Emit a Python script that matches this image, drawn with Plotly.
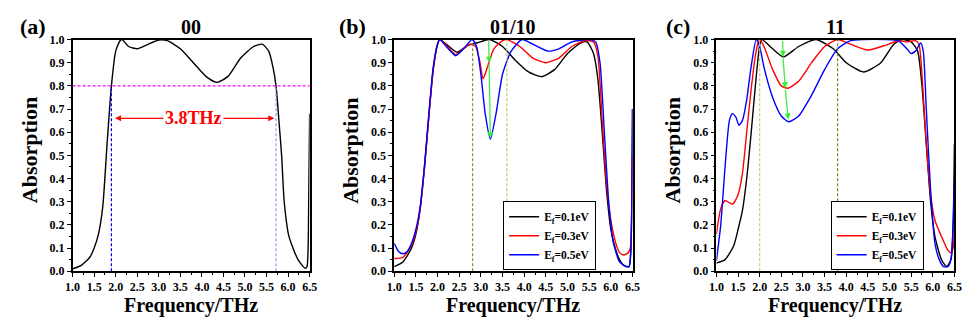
import plotly.graph_objects as go

# ---------------- data ----------------
f_a = [1.0, 1.2, 1.4, 1.5, 1.6, 1.7, 1.8, 1.9, 2.0, 2.1, 2.15, 2.3, 2.5, 2.7, 3.0, 3.2, 3.5, 3.8,
       4.1, 4.35, 4.6, 4.9, 5.2, 5.4, 5.55, 5.65, 5.72, 5.8, 5.85, 5.91, 6.02, 6.23, 6.4, 6.44, 6.47, 6.5]
a_00 = [0.01, 0.025, 0.06, 0.1, 0.16, 0.28, 0.55, 0.8, 0.95, 0.995, 1.0, 0.97, 0.96, 0.975, 0.998, 0.995, 0.96, 0.9,
        0.84, 0.815, 0.84, 0.92, 0.97, 0.98, 0.95, 0.88, 0.8, 0.62, 0.5, 0.3, 0.15, 0.05, 0.012, 0.02, 0.15, 0.68]

f_b_k = [1.0, 1.2, 1.4, 1.5, 1.6, 1.7, 1.8, 1.9, 2.0, 2.05, 2.2, 2.45, 2.7, 2.9, 3.2, 3.5, 3.8, 4.1, 4.4,
         4.7, 5.0, 5.3, 5.45, 5.6, 5.7, 5.8, 5.9, 6.0, 6.1, 6.2, 6.3, 6.42, 6.46, 6.5]
b_k = [0.02, 0.04, 0.1, 0.16, 0.27, 0.45, 0.67, 0.87, 0.98, 1.0, 0.98, 0.945, 0.975, 0.985, 1.0, 0.97, 0.91, 0.86, 0.84,
       0.87, 0.94, 0.985, 0.99, 0.94, 0.83, 0.6, 0.35, 0.18, 0.1, 0.05, 0.025, 0.02, 0.08, 0.7]
f_b_r = [1.0, 1.2, 1.4, 1.5, 1.6, 1.7, 1.8, 1.9, 2.0, 2.05, 2.2, 2.42, 2.6, 2.75, 2.88, 2.98, 3.05, 3.15, 3.3,
         3.5, 3.6, 3.9, 4.2, 4.5, 4.8, 5.1, 5.4, 5.6, 5.7, 5.8, 5.9, 6.0, 6.1, 6.2, 6.3, 6.4, 6.45, 6.5]
b_r = [0.055, 0.06, 0.11, 0.17, 0.27, 0.45, 0.67, 0.87, 0.98, 1.0, 0.975, 0.935, 0.96, 0.98, 0.97, 0.9, 0.83, 0.88, 0.96,
       0.995, 1.0, 0.97, 0.92, 0.9, 0.92, 0.97, 0.995, 0.99, 0.93, 0.65, 0.38, 0.22, 0.13, 0.08, 0.07, 0.08, 0.1, 0.5]
f_b_b = [1.0, 1.1, 1.2, 1.3, 1.4, 1.5, 1.6, 1.7, 1.8, 1.9, 2.0, 2.05, 2.2, 2.42, 2.6, 2.8, 2.9, 3.0, 3.1, 3.22,
         3.35, 3.5, 3.7, 3.95, 4.2, 4.55, 4.8, 5.1, 5.5, 5.65, 5.75, 5.85, 5.95, 6.05, 6.2, 6.35, 6.42, 6.47, 6.5]
b_b = [0.12, 0.085, 0.075, 0.085, 0.12, 0.18, 0.28, 0.46, 0.68, 0.88, 0.98, 1.0, 0.97, 0.93, 0.96, 1.0, 0.97, 0.85, 0.68, 0.57,
       0.68, 0.85, 0.95, 1.0, 0.98, 0.95, 0.96, 0.99, 1.0, 0.99, 0.9, 0.6, 0.3, 0.13, 0.04, 0.02, 0.02, 0.15, 0.7]

f_c_k = [1.0, 1.2, 1.4, 1.5, 1.6, 1.7, 1.8, 1.9, 2.0, 2.05, 2.3, 2.55, 2.9, 3.3, 3.7, 4.0, 4.4, 4.8, 5.1,
         5.3, 5.5, 5.65, 5.75, 5.85, 5.95, 6.05, 6.2, 6.32, 6.42, 6.47, 6.5]
c_k = [0.035, 0.05, 0.11, 0.18, 0.26, 0.4, 0.59, 0.8, 0.975, 1.0, 0.96, 0.925, 0.97, 1.0, 0.96, 0.9, 0.86, 0.9, 0.98,
       1.0, 0.99, 0.95, 0.8, 0.55, 0.3, 0.15, 0.05, 0.02, 0.05, 0.2, 0.55]
f_c_r = [1.0, 1.1, 1.2, 1.3, 1.38, 1.5, 1.6, 1.7, 1.8, 1.9, 1.97, 2.0, 2.1, 2.3, 2.5, 2.65, 2.9, 3.2, 3.5, 3.8,
         4.1, 4.5, 4.9, 5.2, 5.4, 5.6, 5.68, 5.75, 5.85, 5.95, 6.05, 6.2, 6.35, 6.42, 6.47, 6.5]
c_r = [0.16, 0.27, 0.305, 0.295, 0.29, 0.33, 0.42, 0.6, 0.78, 0.93, 0.99, 1.0, 0.97, 0.87, 0.8, 0.79, 0.82, 0.9, 0.97, 1.0,
       0.98, 0.955, 0.975, 0.995, 0.99, 0.995, 0.98, 0.85, 0.55, 0.33, 0.22, 0.15, 0.09, 0.08, 0.1, 0.18]
f_c_b = [1.0, 1.1, 1.2, 1.3, 1.37, 1.45, 1.52, 1.6, 1.7, 1.8, 1.92, 2.0, 2.1, 2.3, 2.5, 2.67, 2.9, 3.2, 3.5, 3.8,
         4.1, 4.4, 4.9, 5.2, 5.4, 5.5, 5.6, 5.72, 5.78, 5.85, 5.95, 6.05, 6.15, 6.25, 6.35, 6.42, 6.47, 6.5]
c_b = [0.045, 0.2, 0.45, 0.65, 0.68, 0.665, 0.63, 0.65, 0.74, 0.88, 1.0, 0.97, 0.88, 0.75, 0.67, 0.645, 0.67, 0.76, 0.87, 0.96,
       0.995, 1.0, 1.0, 0.995, 0.96, 0.94, 0.95, 0.985, 0.95, 0.7, 0.35, 0.12, 0.05, 0.02, 0.02, 0.05, 0.2, 0.4]

legend_names = ["E<sub>f</sub>=0.1eV", "E<sub>f</sub>=0.3eV", "E<sub>f</sub>=0.5eV"]
panel_titles = ["00", "01/10", "11"]
panel_tags = ["(a)", "(b)", "(c)"]
x_ticks = [1.0, 1.5, 2.0, 2.5, 3.0, 3.5, 4.0, 4.5, 5.0, 5.5, 6.0, 6.5]
y_ticks = [0.0, 0.1, 0.2, 0.3, 0.4, 0.5, 0.6, 0.7, 0.8, 0.9, 1.0]

# ---------------- figure ----------------
W, H = 969, 327
FONT = "Liberation Serif"
BLACK, RED, BLUE = "#000000", "#ff0000", "#0000ff"
GREEN = "#33ee33"
DASH = "3px,2px"

xdom = [(65.7 / W, 306.7 / W), (392.7 / W, 635 / W), (720.3 / W, 962.3 / W)]
ydom = (1 - 276 / H, 1 - 34 / H)

fig = go.Figure()
LW = 1.4

def line(color):
    return dict(color=color, width=LW, shape="spline", smoothing=0.6)

fig.add_trace(go.Scatter(x=f_a, y=a_00, mode="lines", line=line(BLACK), showlegend=False,
                         xaxis="x", yaxis="y"))
for fx, fy, col, nm in [(f_b_k, b_k, BLACK, legend_names[0]), (f_b_r, b_r, RED, legend_names[1]),
                        (f_b_b, b_b, BLUE, legend_names[2])]:
    fig.add_trace(go.Scatter(x=fx, y=fy, mode="lines", line=line(col), name=nm,
                             xaxis="x2", yaxis="y2", legend="legend"))
for fx, fy, col, nm in [(f_c_k, c_k, BLACK, legend_names[0]), (f_c_r, c_r, RED, legend_names[1]),
                        (f_c_b, c_b, BLUE, legend_names[2])]:
    fig.add_trace(go.Scatter(x=fx, y=fy, mode="lines", line=line(col), name=nm,
                             xaxis="x3", yaxis="y3", legend="legend2"))

tickfont = dict(family=FONT, size=12, color="black", weight="bold")
layout = dict(width=W, height=H, margin=dict(l=0, r=0, t=0, b=0),
              paper_bgcolor="white", plot_bgcolor="white", font=dict(family=FONT, color="black"))
for i in range(3):
    sx = "" if i == 0 else str(i + 1)
    layout["xaxis" + sx] = dict(domain=list(xdom[i]), range=[1.0, 6.5], anchor="y" + sx,
                                tickmode="array", tickvals=x_ticks,
                                ticktext=[f"{v:.1f}" for v in x_ticks],
                                ticks="outside", ticklen=4, tickwidth=1, tickcolor="black",
                                minor=dict(dtick=0.25, tick0=1.0, ticks="outside", ticklen=2, tickcolor="black"),
                                showline=True, linecolor="black", linewidth=1.5, mirror=True,
                                showgrid=False, zeroline=False, tickfont=tickfont)
    layout["yaxis" + sx] = dict(domain=list(ydom), range=[0.0, 1.0], anchor="x" + sx,
                                tickmode="array", tickvals=y_ticks,
                                ticktext=[f"{v:.1f}" for v in y_ticks],
                                ticks="outside", ticklen=4, tickwidth=1, tickcolor="black",
                                minor=dict(dtick=0.05, tick0=0.0, ticks="outside", ticklen=2, tickcolor="black"),
                                showline=True, linecolor="black", linewidth=1.5, mirror=True,
                                showgrid=False, zeroline=False, tickfont=tickfont)

legfont = dict(family=FONT, size=11.5, color="black", weight="bold")
layout["legend"] = dict(x=598 / W, y=1 - 275 / H, xanchor="right", yanchor="bottom",
                        bordercolor="black", borderwidth=1, bgcolor="white", font=legfont,
                        itemwidth=30, tracegroupgap=0)
layout["legend2"] = dict(x=931 / W, y=1 - 275 / H, xanchor="right", yanchor="bottom",
                         bordercolor="black", borderwidth=1, bgcolor="white", font=legfont,
                         itemwidth=30, tracegroupgap=0)
fig.update_layout(**layout)

# ---------------- shapes ----------------
shapes = []
# (a)
shapes.append(dict(type="line", xref="x domain", yref="y", x0=0, x1=1, y0=0.8, y1=0.8,
                   line=dict(color="#ff00ff", width=1.2, dash=DASH)))
shapes.append(dict(type="line", xref="x", yref="y", x0=1.9, x1=1.9, y0=0, y1=0.8,
                   line=dict(color="#0000ff", width=1.2, dash=DASH)))
shapes.append(dict(type="line", xref="x", yref="y", x0=5.72, x1=5.72, y0=0, y1=0.8,
                   line=dict(color="#9999ff", width=1.2, dash=DASH)))
# (b)
shapes.append(dict(type="line", xref="x2", yref="y2", x0=2.81, x1=2.81, y0=0, y1=0.98,
                   line=dict(color="#8f8f2a", width=1.2, dash=DASH)))
shapes.append(dict(type="line", xref="x2", yref="y2", x0=3.6, x1=3.6, y0=0, y1=1.0,
                   line=dict(color="#c2c270", width=1.2, dash=DASH)))
# (c)
shapes.append(dict(type="line", xref="x3", yref="y3", x0=2.0, x1=2.0, y0=0, y1=1.0,
                   line=dict(color="#c8c878", width=1.2, dash=DASH)))
shapes.append(dict(type="line", xref="x3", yref="y3", x0=3.8, x1=3.8, y0=0, y1=1.0,
                   line=dict(color="#80801a", width=1.2, dash=DASH)))
fig.update_layout(shapes=shapes)

# ---------------- annotations ----------------
ann = []
for i in range(3):
    cx = (xdom[i][0] + xdom[i][1]) / 2
    ann.append(dict(text=panel_titles[i], x=cx, y=1 - 21 / H, xref="paper", yref="paper",
                    showarrow=False, font=dict(family=FONT, size=20, weight="bold"),
                    xanchor="center", yanchor="middle"))
    ann.append(dict(text="Frequency/THz", x=cx, y=1 - 312 / H, xref="paper", yref="paper",
                    showarrow=False, font=dict(family=FONT, size=20, weight="bold"),
                    xanchor="center", yanchor="middle"))
tag_x = [25, 350, 681]
lab_x = [22, 348, 676]
for i in range(3):
    ann.append(dict(text=panel_tags[i], x=tag_x[i] / W, y=1 - 20 / H, xref="paper", yref="paper",
                    showarrow=False, font=dict(family=FONT, size=22, weight="bold"),
                    xanchor="center", yanchor="middle"))
    ann.append(dict(text="Absorption", x=lab_x[i] / W, y=1 - 150 / H, xref="paper", yref="paper",
                    showarrow=False, textangle=-90, font=dict(family=FONT, size=22, weight="bold"),
                    xanchor="center", yanchor="middle"))

# (a) bandwidth arrow
ann.append(dict(x=5.68, y=0.66, ax=1.95, ay=0.66, xref="x", yref="y", axref="x", ayref="y",
                text="", showarrow=True, arrowhead=2, arrowside="end+start", arrowsize=1,
                arrowwidth=1.2, arrowcolor=RED))
ann.append(dict(x=3.8, y=0.66, xref="x", yref="y", text="3.8THz", showarrow=False,
                bgcolor="white", font=dict(family=FONT, size=18, color=RED, weight="bold")))

# (b) green arrows
ann.append(dict(x=3.19, y=0.9, ax=3.18, ay=1.0, xref="x2", yref="y2", axref="x2", ayref="y2",
                text="", showarrow=True, arrowhead=2, arrowsize=1, arrowwidth=1.2, arrowcolor=GREEN))
ann.append(dict(x=3.22, y=0.575, ax=3.19, ay=0.9, xref="x2", yref="y2", axref="x2", ayref="y2",
                text="", showarrow=True, arrowhead=2, arrowsize=1, arrowwidth=1.2, arrowcolor=GREEN))
# (c) green arrows
for (x0, y0, x1, y1) in [(2.53, 1.0, 2.54, 0.925), (2.54, 0.925, 2.59, 0.79), (2.59, 0.79, 2.66, 0.655)]:
    ann.append(dict(x=x1, y=y1, ax=x0, ay=y0, xref="x3", yref="y3", axref="x3", ayref="y3",
                    text="", showarrow=True, arrowhead=2, arrowsize=1, arrowwidth=1.2, arrowcolor=GREEN))
fig.update_layout(annotations=ann)

fig.write_html("out.html")
